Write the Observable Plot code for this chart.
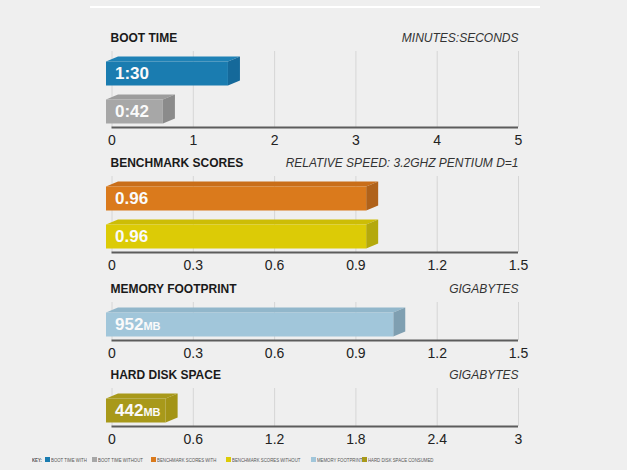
<!DOCTYPE html>
<html><head><meta charset="utf-8">
<script src="https://cdn.jsdelivr.net/npm/d3@7"></script>
<script src="https://cdn.jsdelivr.net/npm/@observablehq/plot@0.6"></script>
<style>
html,body{margin:0;padding:0;background:#efefef;}
#chart{position:relative;width:627px;height:470px;background:#efefef;font-family:"Liberation Sans",Arial,sans-serif;overflow:hidden}
#rule{position:absolute;left:90px;top:6px;width:450px;height:2px;background:#fff}
#key{position:absolute;left:0;top:450px;width:627px;height:20px}
.k{position:absolute;top:7px;font-size:6px;color:#555;white-space:nowrap;transform:scaleX(0.72);transform-origin:0 50%;line-height:6px}
.sq{position:absolute;top:7px;width:5px;height:5px}
svg{display:block}
</style></head><body><div id="chart"><div id="panels"></div><div id="rule"></div><div id="key"></div></div>
<script>
// ---- data ----
const panelTitles = ["BOOT TIME", "BENCHMARK SCORES", "MEMORY FOOTPRINT", "HARD DISK SPACE"];
const panelUnits = ["MINUTES:SECONDS", "RELATIVE SPEED: 3.2GHZ PENTIUM D=1", "GIGABYTES", "GIGABYTES"];
const axisMax = [5, 1.5, 1.5, 3];
const axisTicks = [[0, 1, 2, 3, 4, 5], [0, 0.3, 0.6, 0.9, 1.2, 1.5], [0, 0.3, 0.6, 0.9, 1.2, 1.5], [0, 0.6, 1.2, 1.8, 2.4, 3]];
const axisTickLabels = [["0", "1", "2", "3", "4", "5"], ["0", "0.3", "0.6", "0.9", "1.2", "1.5"], ["0", "0.3", "0.6", "0.9", "1.2", "1.5"], ["0", "0.6", "1.2", "1.8", "2.4", "3"]];
const keyLabels = ["BOOT TIME WITH", "BOOT TIME WITHOUT", "BENCHMARK SCORES WITH", "BENCHMARK SCORES WITHOUT", "MEMORY FOOTPRINT", "HARD DISK SPACE CONSUMED"];
const barSeries = [[0, 1], [2, 3], [4], [5]];
const barValues = [[1.5, 0.7], [0.96, 0.96], [1.06], [0.44]];
const barLabels = [["1:30", "0:42"], ["0.96", "0.96"], ["952MB"], ["442MB"]];

// ---- styles ----
const seriesFront = ["#1a7cb0", "#a7a7a7", "#da7a1c", "#dccb06", "#a1c6da", "#a8991a"];
const seriesTop = ["#1f82b6", "#9d9d9d", "#c96e19", "#cdbd06", "#92b7cb", "#a8991a"];
const seriesSide = ["#15699a", "#8b8b8b", "#b0621a", "#b4a90c", "#7f9fb1", "#a39416"];
const layout = [{mt: 51, mb: 24}, {mt: 25, mb: 24}, {mt: 26, mb: 23}, {mt: 25, mb: 24}];
const keyX = [45, 92, 151, 226, 311, 362];
const FONT = '"Liberation Sans", Arial, sans-serif';

const W = 627, ML = 111.5, MR = 109, ROW = 38;
const host = document.getElementById("panels");

panelTitles.forEach((title, p) => {
  const rows = barValues[p].length, xMax = axisMax[p];
  const {mt, mb} = layout[p];
  const H = mt + rows * ROW + mb;
  const kx = (W - ML - MR) / xMax, hx = 6 / kx, dz = 5 / ROW, FT = 10 / ROW, FB = 34 / ROW;
  const polys = [];
  barValues[p].forEach((v, i) => {
    const s = barSeries[p][i];
    const faces = [
      ["top", seriesTop[s], [[-hx, FT], [v - hx, FT], [v + hx, FT - dz], [hx, FT - dz]]],
      ["side", seriesSide[s], [[v - hx, FT], [v + hx, FT - dz], [v + hx, FB - dz], [v - hx, FB]]],
      ["front", seriesFront[s], [[-hx, FT], [v - hx, FT], [v - hx, FB], [-hx, FB]]]
    ];
    faces.forEach(([f, c, pts]) => pts.forEach(([x, y]) => polys.push({id: i + "-" + f, col: c, x, y: y + i})));
  });
  const labels = barValues[p].map((v, i) => ({y: i + (FT + FB) / 2, text: barLabels[p][i]}));
  const ticks = axisTicks[p].map((t, i) => ({t, label: axisTickLabels[p][i]}));
  const plot = Plot.plot({
    width: W, height: H, marginLeft: ML, marginRight: MR, marginTop: mt, marginBottom: mb,
    x: {domain: [0, xMax], axis: null},
    y: {domain: [rows, 0], axis: null},
    color: {type: "identity"},
    style: {background: "transparent", fontFamily: FONT, overflow: "visible"},
    marks: [
      Plot.ruleX(ticks, {x: "t", y1: () => 0, y2: () => rows, stroke: "#d6d6d6", strokeWidth: 1}),
      Plot.line(polys, {x: "x", y: "y", z: "id", fill: "col", stroke: "none", curve: "linear"}),
      Plot.ruleY([rows], {x1: () => 0, x2: () => xMax, stroke: "#5c5c5c", strokeWidth: 2}),
      Plot.text(ticks, {x: "t", y: () => rows, dy: 13, text: "label", fontSize: 14, fill: "#222", textAnchor: "middle", lineAnchor: "middle"}),
      Plot.text(labels, {x: () => 0, y: "y", dx: 3, text: "text", fill: "#fafafa", fontSize: 17, fontWeight: "bold", textAnchor: "start", lineAnchor: "middle"}),
      Plot.text([title], {frameAnchor: "top-left", dx: -1.5, dy: -13, text: d => d, fontSize: 12, fontWeight: "bold", fill: "#1a1a1a", textAnchor: "start", lineAnchor: "middle"}),
      Plot.text([panelUnits[p]], {frameAnchor: "top-right", dy: -13, text: d => d, fontSize: 12, fontStyle: "italic", fill: "#333", textAnchor: "end", lineAnchor: "middle"})
    ]
  });
  d3.select(plot).selectAll("text").each(function () {
    const m = this.textContent.match(/^(\d+)(MB)$/);
    if (m) {
      this.textContent = m[1];
      d3.select(this).append("tspan").attr("font-size", 11).text(m[2]);
    }
  });
  host.appendChild(plot);
});

// ---- key ----
const key = d3.select("#key");
key.append("span").attr("class", "k").style("left", "32px").style("font-weight", "bold").text("KEY:");
keyLabels.forEach((lab, i) => {
  key.append("span").attr("class", "sq").style("left", keyX[i] + "px").style("background", seriesFront[i]);
  key.append("span").attr("class", "k").style("left", (keyX[i] + 6) + "px").text(lab);
});
</script></body></html>
